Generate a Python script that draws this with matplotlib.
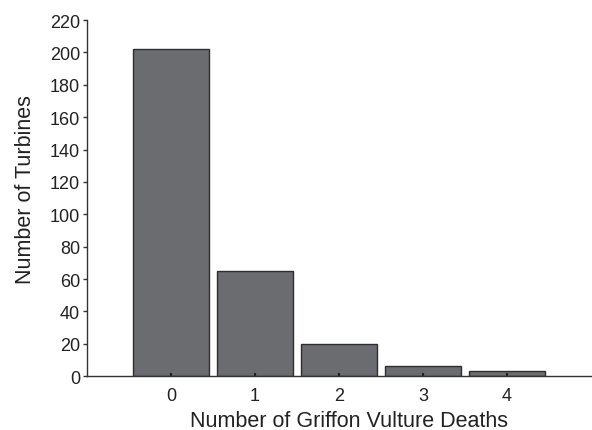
import matplotlib.pyplot as plt

plt.rcParams['font.family'] = ['Liberation Sans', 'DejaVu Sans']

deaths = [0, 1, 2, 3, 4]
turbines = [202, 65, 20, 6, 3]
yticks = list(range(0, 221, 20))

fig = plt.figure(figsize=(5.92, 4.31), dpi=100)
ax = fig.add_axes([0.147, 0.125, 0.851, 0.826])

ax.bar(deaths, turbines, width=0.9, color='#6b6c70', edgecolor='#2e2e2e', linewidth=1.0)

ax.set_xlim(-1, 5)
ax.set_ylim(0, 220)
ax.set_xticks(deaths)
ax.set_yticks(yticks)

for s in ['top', 'right']:
    ax.spines[s].set_visible(False)
for s in ['left', 'bottom']:
    ax.spines[s].set_color('#333333')
    ax.spines[s].set_linewidth(1.0)

ax.tick_params(axis='y', direction='out', length=3, width=1, colors='#333333', labelsize=13, pad=2, labelcolor='#222222')
ax.tick_params(axis='x', direction='in', length=2, width=1.5, colors='#222222', labelsize=13, pad=8)

ax.set_xlabel('Number of Griffon Vulture Deaths', fontsize=15.5, color='#222222')
ax.set_ylabel('Number of Turbines', fontsize=15.5, color='#222222')
ax.xaxis.set_label_coords(0.52, -0.095)
ax.yaxis.set_label_coords(-0.102, 0.528)

fig.savefig('out.png', dpi=100)
